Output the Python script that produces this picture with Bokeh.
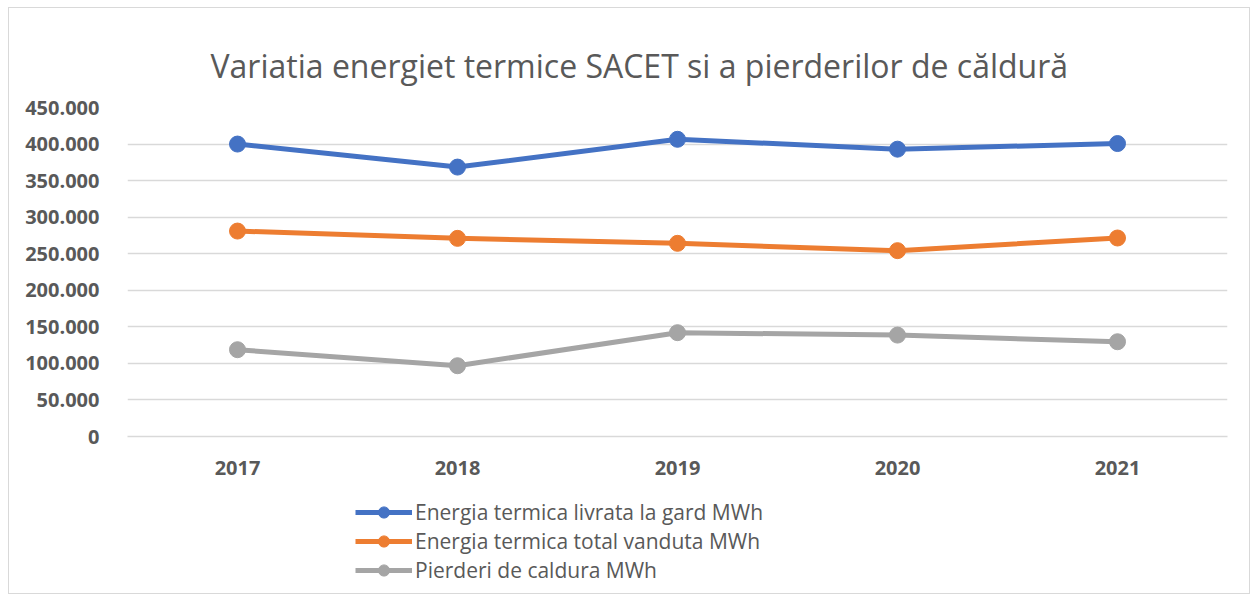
from bokeh.plotting import figure
from bokeh.layouts import column
from bokeh.models import FactorRange, Range1d, FixedTicker, Legend, LegendItem, Title
from bokeh.embed import file_html
from bokeh.resources import INLINE

years = ["2017", "2018", "2019", "2020", "2021"]
livrata = [400000, 368500, 406500, 393000, 400700]
vanduta = [281000, 271000, 264200, 254200, 271500]
pierderi = [118700, 96800, 142000, 138700, 129600]
series_names = ["Energia termica livrata la gard MWh",
                "Energia termica total vanduta MWh",
                "Pierderi de caldura MWh"]
colors = ["#4472C4", "#ED7D31", "#A5A5A5"]
y_ticks = [0, 50000, 100000, 150000, 200000, 250000, 300000, 350000, 400000, 450000]
y_tick_labels = ["0", "50.000", "100.000", "150.000", "200.000", "250.000",
                 "300.000", "350.000", "400.000", "450.000"]
title_text = "Variatia energiet termice SACET si a pierderilor de căldură"

p = figure(x_range=FactorRange(factors=years), y_range=Range1d(0, 450000),
           frame_width=1100, frame_height=329,
           min_border_left=118, min_border_right=22, min_border_top=99, min_border_bottom=50,
           output_backend="svg", toolbar_location=None)
p.outline_line_color = None
p.background_fill_color = "white"

p.xgrid.grid_line_color = None
p.ygrid.grid_line_color = "#D9D9D9"
p.ygrid.grid_line_width = 1.5

p.yaxis.ticker = FixedTicker(ticks=y_ticks)
p.yaxis.major_label_overrides = {t: l for t, l in zip(y_ticks, y_tick_labels)}
p.yaxis.axis_line_color = None
p.yaxis.major_tick_line_color = None
p.yaxis.minor_tick_line_color = None
p.yaxis.major_label_standoff = 22

p.xaxis.axis_line_color = "#D9D9D9"
p.xaxis.axis_line_width = 1.5
p.xaxis.major_tick_line_color = None
p.xaxis.minor_tick_line_color = None
p.xaxis.major_label_standoff = 18

for ax in (p.xaxis[0], p.yaxis[0]):
    ax.major_label_text_font = "Open Sans"
    ax.major_label_text_font_style = "bold"
    ax.major_label_text_font_size = "20px"
    ax.major_label_text_color = "#595959"

for name, vals, c in zip(series_names, [livrata, vanduta, pierderi], colors):
    p.line(x=years, y=vals, line_color=c, line_width=5)
    p.scatter(x=years, y=vals, size=16, fill_color=c, line_color=c)

title = Title(text=title_text, align="left", offset=83, standoff=42,
              text_font="Open Sans", text_font_size="32px", text_font_style="normal",
              text_color="#595959")
p.add_layout(title, "above")

# legend panel below the chart
p2 = figure(frame_width=1240, frame_height=107,
            x_range=Range1d(0, 1), y_range=Range1d(0, 1),
            min_border_left=0, min_border_right=0, min_border_top=0, min_border_bottom=0,
            x_axis_type=None, y_axis_type=None,
            output_backend="svg", toolbar_location=None)
p2.outline_line_color = None
p2.xgrid.visible = False
p2.ygrid.visible = False

items = []
for name, c in zip(series_names, colors):
    # off-screen placeholder data so the legend swatches are drawn
    r1 = p2.line(x=[-10, -9], y=[-10, -10], line_color=c, line_width=5)
    r2 = p2.scatter(x=[-10], y=[-10], size=16, fill_color=c, line_color=c)
    items.append(LegendItem(label=name, renderers=[r1, r2]))

legend = Legend(items=items, location=(346, 9), orientation="vertical",
                glyph_width=57, glyph_height=28, label_height=28, spacing=1,
                padding=0, margin=0, label_standoff=3,
                border_line_alpha=0, background_fill_alpha=0,
                label_text_font="Open Sans", label_text_font_size="21px",
                label_text_color="#595959")
p2.add_layout(legend)

layout = column(p, p2, spacing=0,
                styles={"border": "1px solid #D9D9D9", "margin-left": "8px", "margin-top": "7px"})

open("out.html", "w").write(file_html(layout, INLINE))
